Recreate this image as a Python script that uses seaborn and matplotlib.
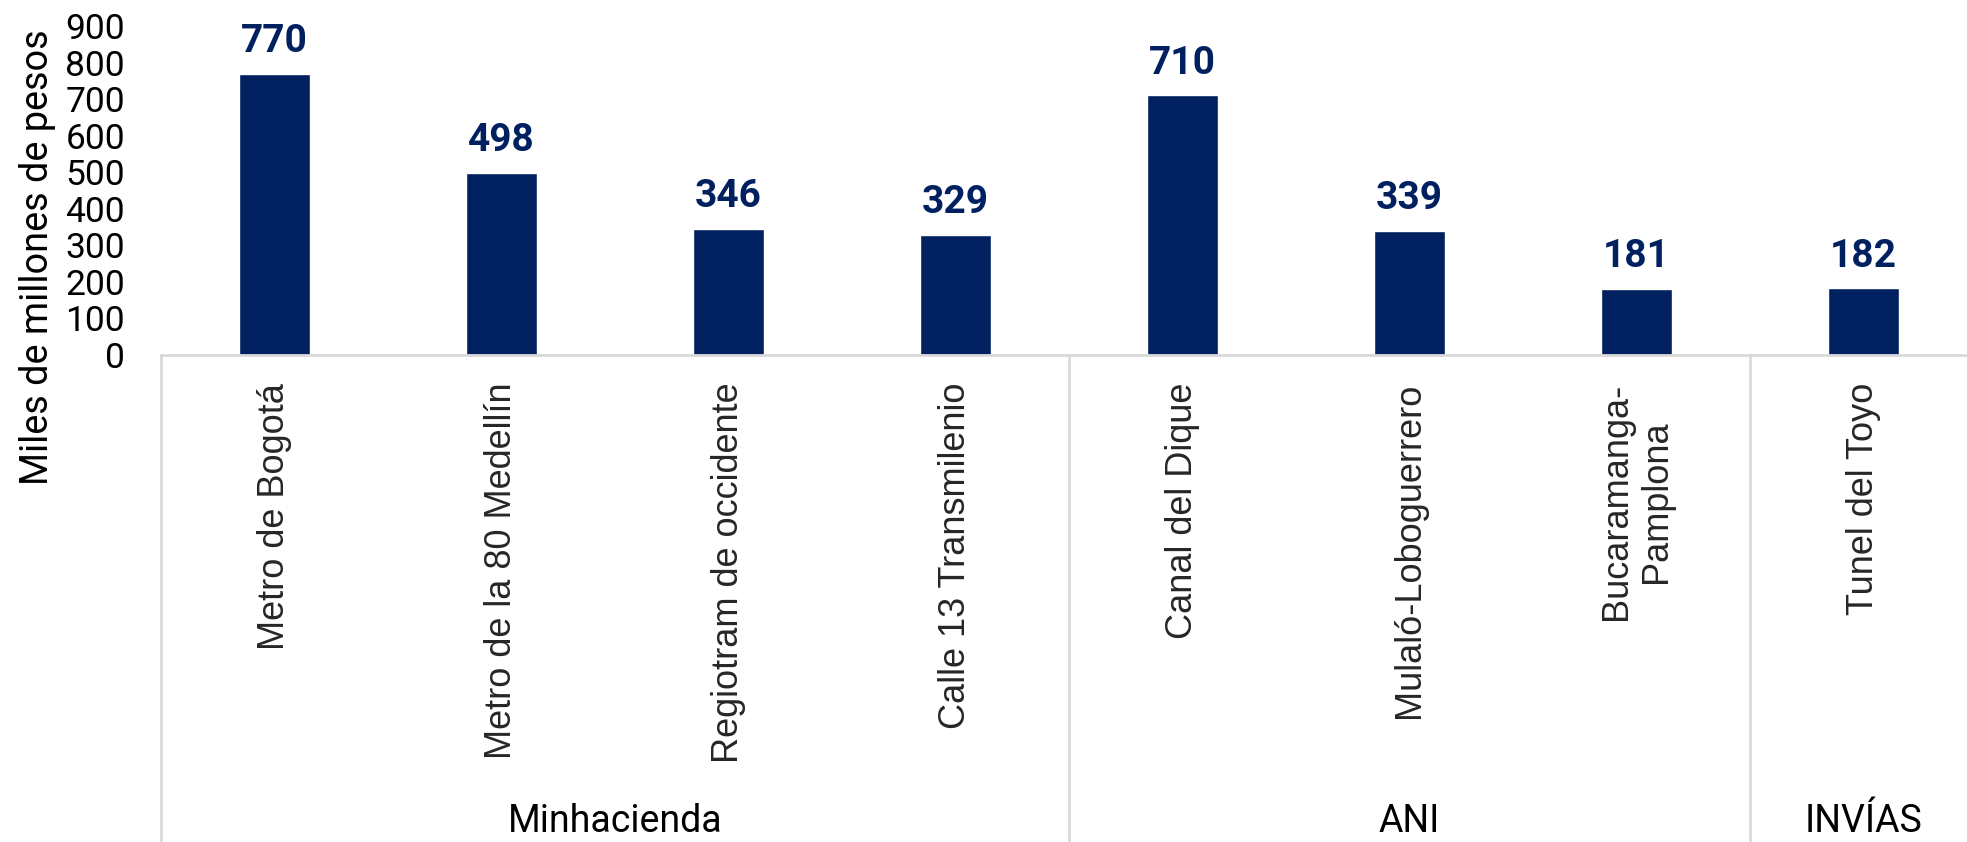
import matplotlib
matplotlib.use("Agg")
import matplotlib.pyplot as plt
import matplotlib.transforms as mtransforms
import seaborn as sns
import pandas as pd

categories = ["Metro de Bogotá", "Metro de la 80 Medellín", "Regiotram de occidente",
              "Calle 13 Transmilenio", "Canal del Dique", "Mulaló-Loboguerrero",
              "Bucaramanga-\nPamplona", "Tunel del Toyo"]
values = [770, 498, 346, 329, 710, 339, 181, 182]
groups = ["Minhacienda", "ANI", "INVÍAS"]
group_sizes = [4, 3, 1]
y_ticks = [0, 100, 200, 300, 400, 500, 600, 700, 800, 900]
y_label = "Miles de millones de pesos"

NAVY = "#002060"
GRID = "#d9d9d9"

sns.set_theme(style="white")
plt.rcParams['font.family'] = ['Roboto', 'DejaVu Sans']

W, H = 1967, 842
fig = plt.figure(figsize=(W / 100, H / 100), dpi=100)
ax_left, ax_right = 161, 1977
ax_top, ax_bot = 26, 355
ax = fig.add_axes([ax_left / W, (H - ax_bot) / H, (ax_right - ax_left) / W, (ax_bot - ax_top) / H])

df = pd.DataFrame({"cat": categories, "val": values})
sns.barplot(data=df, x="cat", y="val", color=NAVY, width=0.313, ax=ax, saturation=1)

ax.set_xlim(-0.5, len(categories) - 0.5)
ax.set_ylim(0, 900)
ax.set_yticks(y_ticks)
ax.set_yticklabels([str(t) for t in y_ticks], fontsize=25.5, color="black")
ax.tick_params(axis='y', length=0, pad=26)
ax.set_xlabel("")
ax.set_ylabel("")

ax.set_xticks(range(len(categories)))
ax.set_xticklabels(categories, rotation=90, fontsize=26, family=['Liberation Sans', 'DejaVu Sans'],
                   va='top', ha='center', multialignment='center')
ax.tick_params(axis='x', length=0, pad=20)

for s in ["top", "right", "left"]:
    ax.spines[s].set_visible(False)
ax.spines["bottom"].set_color(GRID)
ax.spines["bottom"].set_linewidth(2)

for c in ax.containers:
    ax.bar_label(c, labels=[str(v) for v in values], padding=10, fontsize=28,
                 fontweight='bold', color=NAVY)

trans = mtransforms.blended_transform_factory(ax.transData, ax.transAxes)
bottom_frac = -(H - ax_bot) / (ax_bot - ax_top) - 0.1
start = -0.5
centers = []
bounds = [start]
for n in group_sizes:
    centers.append(start + n / 2)
    start += n
    bounds.append(start)
for b in bounds:
    ax.plot([b, b], [0, bottom_frac], transform=trans, color=GRID, lw=2, clip_on=False)

label_y = -(822 - ax_bot) / (ax_bot - ax_top)
for g, cx in zip(groups, centers):
    ax.text(cx, label_y, g, transform=trans, ha='center', va='center', fontsize=27,
            family=['Roboto', 'DejaVu Sans'], color="black")

fig.text(38 / W, 1 - 257 / H, y_label, rotation=90, ha='center', va='center', fontsize=27.3,
         color="black")

fig.savefig("out.png", dpi=100)
